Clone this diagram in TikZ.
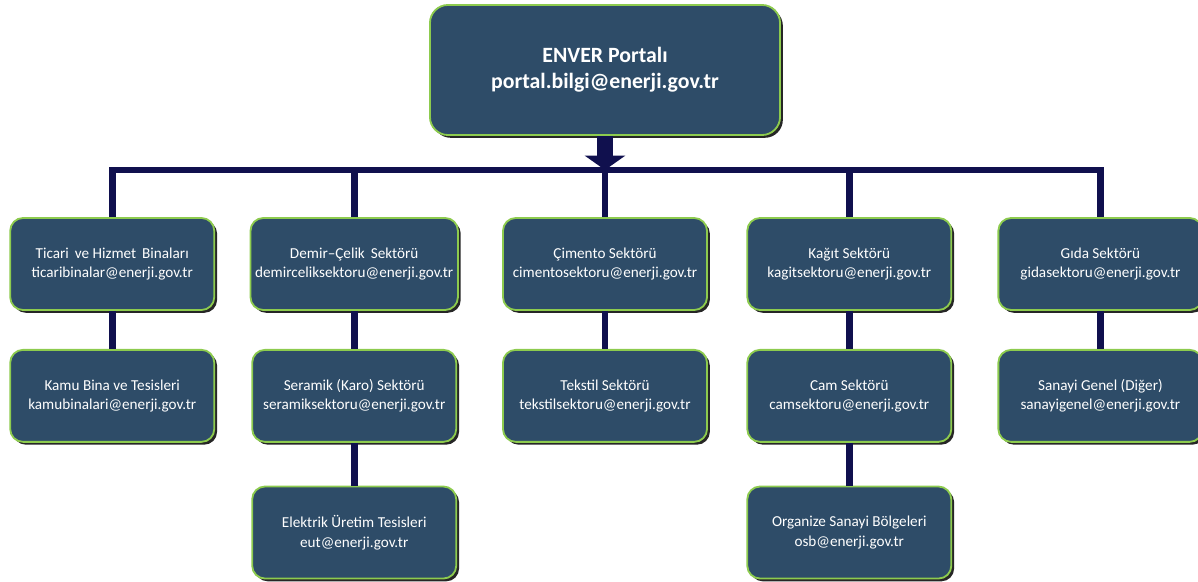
\documentclass[tikz,border=0pt]{standalone}
\usepackage{fontspec}
\setmainfont{Carlito}
\usetikzlibrary{positioning,shadows,arrows.meta}

\definecolor{boxfill}{HTML}{2E4C68}
\definecolor{boxedge}{HTML}{8DCB4E}
\definecolor{navy}{HTML}{10104E}

\begin{document}
\begin{tikzpicture}[
        x=0.025cm, y=-0.025cm,
        node distance=0.95cm and 1cm,
        unit/.style={rectangle, draw=boxedge, line width=1.3pt, fill=boxfill, rounded corners=0.32cm, minimum width=5.1cm, minimum height=2.3cm, align=center, text=white, font=\fontsize{10.8}{13.8}\selectfont, drop shadow={shadow xshift=0.07cm, shadow yshift=-0.07cm, fill=black, opacity=0.85}},
        head/.style={unit, minimum width=8.75cm, minimum height=3.25cm, rounded corners=0.45cm, font=\fontsize{15.5}{18.5}\selectfont\bfseries},
        link/.style={draw=navy, line width=0.17cm},
        downarrow/.style={draw=navy, line width=0.38cm, -{Triangle[length=0.36cm, width=1cm]}}
    ]
    \useasboundingbox (0,0) rectangle (1198,582);

    % top node
    \node[head] (portal) at (605,70) {ENVER Portalı\\portal.bilgi@enerji.gov.tr};
    \coordinate (bus) at (605,170);

    % first row
    \node[unit] (cimento) at (605,264) {Çimento Sektörü\\cimentosektoru@enerji.gov.tr};
    \node[unit] (demir) [left=1.08cm of cimento] {Demir–Çelik\, Sektörü\\demirceliksektoru@enerji.gov.tr};
    \node[unit] (ticari) [left=0.86cm of demir] {Ticari\, ve Hizmet\, Binaları\\ticaribinalar@enerji.gov.tr};
    \node[unit] (kagit) [right=0.96cm of cimento] {Kağıt Sektörü\\kagitsektoru@enerji.gov.tr};
    \node[unit] (gida) [right=1.13cm of kagit] {Gıda Sektörü\\gidasektoru@enerji.gov.tr};

    % second row
    \node[unit] (kamu) [below=of ticari] {Kamu Bina ve Tesisleri\\kamubinalari@enerji.gov.tr};
    \node[unit] (seramik) [below=of demir] {Seramik (Karo) Sektörü\\seramiksektoru@enerji.gov.tr};
    \node[unit] (tekstil) [below=of cimento] {Tekstil Sektörü\\tekstilsektoru@enerji.gov.tr};
    \node[unit] (cam) [below=of kagit] {Cam Sektörü\\camsektoru@enerji.gov.tr};
    \node[unit] (sanayi) [below=of gida] {Sanayi Genel (Diğer)\\sanayigenel@enerji.gov.tr};

    % third row
    \node[unit] (eut) [below=1.07cm of seramik] {Elektrik Üretim Tesisleri\\eut@enerji.gov.tr};
    \node[unit] (osb) [below=1.07cm of cam] {Organize Sanayi Bölgeleri\\osb@enerji.gov.tr};

    % connections
    \draw[downarrow] (portal.south) -- (bus);
    \draw[link] (ticari.north) |- (bus) -| (gida.north);
    \draw[link] (bus) -- (cimento.north);
    \draw[link] (demir.north) -- (demir.north |- bus);
    \draw[link] (kagit.north) -- (kagit.north |- bus);

    \draw[link] (ticari) -- (kamu);
    \draw[link] (demir) -- (seramik);
    \draw[link] (cimento) -- (tekstil);
    \draw[link] (kagit) -- (cam);
    \draw[link] (gida) -- (sanayi);
    \draw[link] (seramik) -- (eut);
    \draw[link] (cam) -- (osb);

\end{tikzpicture}
\end{document}
